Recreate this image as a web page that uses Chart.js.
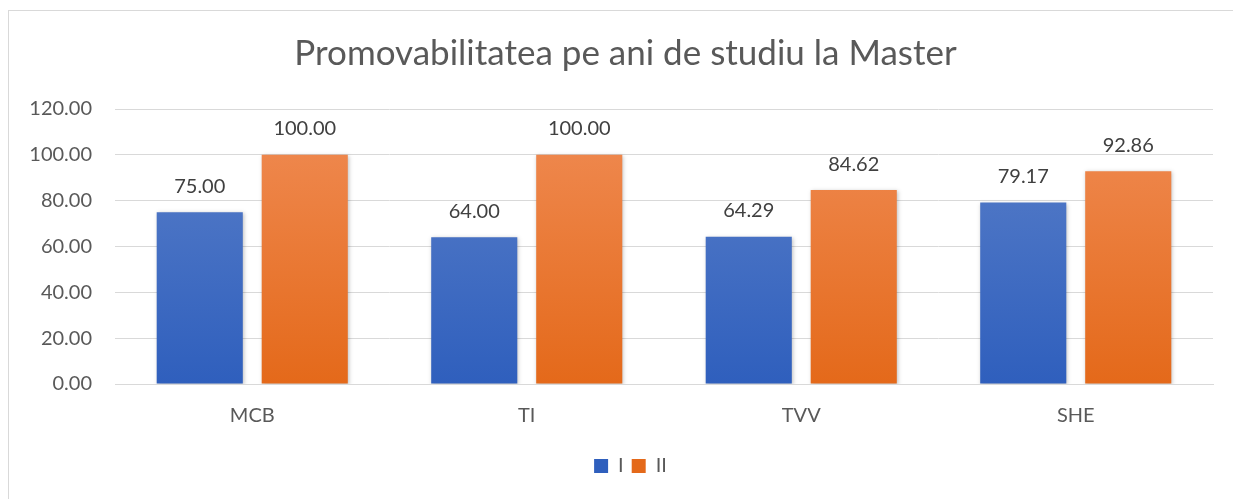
<!DOCTYPE html>
<html><head><meta charset="utf-8">
<script src="https://cdn.jsdelivr.net/npm/chart.js@4"></script>
<style>
html,body{margin:0;padding:0;background:#fff;overflow:hidden}
#frame{position:absolute;left:8px;top:10px;width:1300px;height:600px;border:1px solid #d9d9d9;box-sizing:border-box}
#wrap{position:absolute;left:0;top:0;width:1233px;height:499px}
</style></head>
<body>
<div id="frame"></div>
<div id="wrap"><canvas id="c" width="1233" height="499"></canvas></div>
<script>
const titleText = 'Promovabilitatea pe ani de studiu la Master';
const categories = ['MCB', 'TI', 'TVV', 'SHE'];
const seriesNames = ['I', 'II'];
const seriesI = [75.00, 64.00, 64.29, 79.17];
const seriesII = [100.00, 100.00, 84.62, 92.86];
const yTicks = [0, 20, 40, 60, 80, 100, 120];

const FONT = 'Lato, "Open Sans", sans-serif';

function fillFor(top, bottom) {
  return (c) => {
    const area = c.chart.chartArea;
    if (!area) return bottom;
    const g = c.chart.ctx.createLinearGradient(0, area.top, 0, area.bottom);
    g.addColorStop(0, top);
    g.addColorStop(1, bottom);
    return g;
  };
}

const shadowPlugin = {
  id: 'shadow',
  beforeDatasetsDraw(chart) {
    const ctx = chart.ctx;
    ctx.save();
    ctx.shadowColor = 'rgba(0,0,0,0.25)';
    ctx.shadowBlur = 4;
    ctx.shadowOffsetX = 1;
    ctx.shadowOffsetY = 1;
  },
  afterDatasetsDraw(chart) {
    chart.ctx.restore();
  }
};

const blockShift = {
  id: 'blockShift',
  afterLayout(chart) {
    if (chart.legend) { chart.legend.left += 24; chart.legend.right += 24; }
    if (chart.titleBlock) { chart.titleBlock.left += 19; chart.titleBlock.right += 19; }
  }
};

const labelPlugin = {
  id: 'vals',
  afterDatasetsDraw(chart) {
    const ctx = chart.ctx;
    ctx.save();
    ctx.shadowColor = 'transparent';
    ctx.font = '20px ' + FONT;
    ctx.fillStyle = '#404040';
    ctx.textAlign = 'center';
    ctx.textBaseline = 'middle';
    chart.data.datasets.forEach((ds, i) => {
      chart.getDatasetMeta(i).data.forEach((bar, j) => {
        ctx.fillText(ds.data[j].toFixed(2), bar.x, bar.y - 26);
      });
    });
    ctx.restore();
  }
};

new Chart(document.getElementById('c'), {
  type: 'bar',
  data: {
    labels: categories,
    datasets: [
      { label: seriesNames[0], data: seriesI,
        backgroundColor: fillFor('#5b80c9', '#2f5fbd') },
      { label: seriesNames[1], data: seriesII,
        backgroundColor: fillFor('#f08c55', '#e4691a') }
    ]
  },
  options: {
    responsive: false,
    animation: false,
    devicePixelRatio: 1,
    layout: { padding: { left: 0, right: 20, top: 0, bottom: 13 } },
    datasets: { bar: { categoryPercentage: 0.765, barPercentage: 0.82 } },
    scales: {
      x: {
        grid: { display: false, drawTicks: false },
        border: { display: true, color: '#d9d9d9', width: 1 },
        ticks: { padding: 20, color: '#595959', font: { size: 20, family: FONT } },
        afterFit(s) { s.height = 64; }
      },
      y: {
        min: 0, max: 120,
        afterBuildTicks(s) { s.ticks = yTicks.map(v => ({ value: v })); },
        grid: { color: '#d9d9d9', lineWidth: 1, drawTicks: false },
        border: { display: false },
        ticks: { padding: 23, color: '#595959', font: { size: 20, family: FONT },
          callback: v => Number(v).toFixed(2) },
        afterFit(s) { s.width = 115; }
      }
    },
    plugins: {
      title: { display: true, text: titleText, color: '#595959',
        font: { size: 35, weight: 'normal', family: FONT },
        padding: { top: 33, bottom: 34 } },
      legend: { position: 'bottom',
        labels: { boxWidth: 14, boxHeight: 14, color: '#595959',
          font: { size: 20, family: FONT }, padding: 8 } },
      tooltip: { enabled: false }
    }
  },
  plugins: [shadowPlugin, blockShift, labelPlugin]
});
</script>
</body></html>
